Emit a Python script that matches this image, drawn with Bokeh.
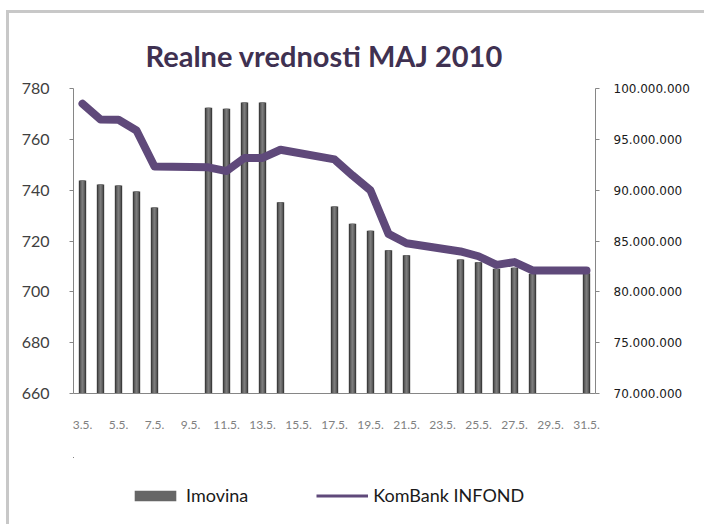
from bokeh.plotting import figure
from bokeh.layouts import column
from bokeh.models import (Range1d, LinearAxis, FixedTicker, Legend, LegendItem,
                          ColumnDataSource, Title)
from bokeh.embed import file_html
from bokeh.resources import INLINE

# ---------------- data ----------------
days = ["3.5.", "4.5.", "5.5.", "6.5.", "7.5.", "8.5.", "9.5.", "10.5.", "11.5.",
        "12.5.", "13.5.", "14.5.", "15.5.", "16.5.", "17.5.", "18.5.", "19.5.",
        "20.5.", "21.5.", "22.5.", "23.5.", "24.5.", "25.5.", "26.5.", "27.5.",
        "28.5.", "29.5.", "30.5.", "31.5."]
tick_days = ["3.5.", "5.5.", "7.5.", "9.5.", "11.5.", "13.5.", "15.5.", "17.5.",
             "19.5.", "21.5.", "23.5.", "25.5.", "27.5.", "29.5.", "31.5."]
trading_days = ["3.5.", "4.5.", "5.5.", "6.5.", "7.5.",
                "10.5.", "11.5.", "12.5.", "13.5.", "14.5.",
                "17.5.", "18.5.", "19.5.", "20.5.", "21.5.",
                "24.5.", "25.5.", "26.5.", "27.5.", "28.5.",
                "31.5."]
# Imovina (assets), dinars -> right axis
imovina = [90.95e6, 90.55e6, 90.45e6, 89.87e6, 88.30e6,
           98.10e6, 98.00e6, 98.62e6, 98.62e6, 88.80e6,
           88.40e6, 86.70e6, 86.00e6, 84.10e6, 83.60e6,
           83.18e6, 82.92e6, 82.27e6, 82.36e6, 81.77e6,
           81.83e6]
# KomBank INFOND unit value -> left axis
infond = [774.0, 767.8, 767.7, 763.5, 749.3,
          749.0, 747.5, 752.7, 752.7, 755.9,
          752.1, 745.8, 739.9, 722.8, 719.1,
          715.9, 714.0, 710.6, 711.7, 708.4,
          708.4]
left_ticks = [660, 680, 700, 720, 740, 760, 780]
right_ticks = [70e6, 75e6, 80e6, 85e6, 90e6, 95e6, 100e6]
right_tick_labels = ["70.000.000", "75.000.000", "80.000.000", "85.000.000",
                     "90.000.000", "95.000.000", "100.000.000"]
title_text = "Realne vrednosti MAJ 2010"
series_names = ["Imovina", "KomBank INFOND"]

BAR_DARK, BAR_MID, BAR_LIGHT = "#3d3d3d", "#5e5e5e", "#7c7c7c"
LINE_COLOR = "#5f497a"
AXIS = "#868686"

# ---------------- main figure ----------------
xs = [days.index(d) for d in trading_days]
src = ColumnDataSource(dict(x=xs, imovina=imovina, infond=infond))

p = figure(width=698, height=447, output_backend="svg", toolbar_location=None,
           x_range=Range1d(-0.5, len(days) - 0.5), y_range=Range1d(660, 780),
           min_border_left=64, min_border_right=112, min_border_top=75,
           min_border_bottom=67)
p.styles = {"border-left": "3px solid #c8c8c8", "border-top": "3px solid #c8c8c8",
            "margin-left": "6px", "margin-top": "10px"}
p.outline_line_color = None
p.background_fill_color = "white"
p.border_fill_color = "white"
p.xgrid.visible = False
p.ygrid.visible = False

p.title = Title(text=title_text, align="left", offset=72, standoff=31,
                text_font="Lato", text_font_size="29px", text_font_style="bold",
                text_color="#3f3151")

p.extra_y_ranges = {"right": Range1d(70e6, 100e6)}

# bars (cylinder-like shading with stacked widths)
p.vbar(x="x", top="imovina", bottom=70e6, width=0.41, source=src,
       y_range_name="right", fill_color=BAR_DARK, line_color=None)
p.vbar(x="x", top="imovina", bottom=70e6, width=0.27, source=src,
       y_range_name="right", fill_color=BAR_MID, line_color=None)
p.vbar(x="x", top="imovina", bottom=70e6, width=0.12, source=src,
       y_range_name="right", fill_color=BAR_LIGHT, line_color=None)

p.line(x="x", y="infond", source=src, line_color=LINE_COLOR, line_width=8,
       line_join="round", line_cap="round")

# axes
xa = p.xaxis[0]
xa.ticker = FixedTicker(ticks=[days.index(d) for d in tick_days])
xa.major_label_overrides = {days.index(d): d for d in tick_days}
xa.axis_line_color = AXIS
xa.major_tick_in = 0
xa.major_tick_out = 0
xa.minor_tick_out = 0
xa.minor_tick_in = 0
xa.major_label_standoff = 27
xa.major_label_text_font = "Lato"
xa.major_label_text_font_size = "12px"
xa.major_label_text_color = "#808080"

ya = p.yaxis[0]
ya.ticker = FixedTicker(ticks=left_ticks)
ya.axis_line_color = AXIS
ya.major_tick_line_color = AXIS
ya.major_tick_in = 0
ya.major_tick_out = 4
ya.minor_tick_out = 0
ya.minor_tick_in = 0
ya.major_label_standoff = 20
ya.major_label_text_font = "Lato"
ya.major_label_text_font_size = "16px"
ya.major_label_text_color = "#404040"

ra = LinearAxis(y_range_name="right")
ra.ticker = FixedTicker(ticks=right_ticks)
ra.major_label_overrides = {t: l for t, l in zip(right_ticks, right_tick_labels)}
ra.axis_line_color = AXIS
ra.major_tick_line_color = AXIS
ra.major_tick_in = 0
ra.major_tick_out = 4
ra.minor_tick_out = 0
ra.minor_tick_in = 0
ra.major_label_standoff = 14
ra.major_label_text_font = "DejaVu Sans"
ra.major_label_text_font_size = "12px"
ra.major_label_text_color = "#1a1a1a"
p.add_layout(ra, "right")

# ---------------- legend strip ----------------
# (its renderers reuse the series data, which lies far outside this strip's ranges)
lf = figure(width=698, height=67, output_backend="svg", toolbar_location=None,
            x_range=Range1d(1000, 1001), y_range=Range1d(0, 1),
            min_border_left=0, min_border_right=0, min_border_top=0,
            min_border_bottom=0)
lf.styles = {"border-left": "3px solid #c8c8c8", "margin-left": "6px"}
lf.axis.visible = False
lf.grid.visible = False
lf.outline_line_color = None
lf.border_fill_color = "white"
leg_bar = lf.vbar(x="x", top="imovina", bottom=70e6, width=0.4, source=src,
                  fill_color="#666666", line_color=None)
leg_line = lf.line(x="x", y="infond", source=src, line_color=LINE_COLOR,
                   line_width=3)

legend = Legend(items=[LegendItem(label=series_names[0], renderers=[leg_bar]),
                       LegendItem(label=series_names[1], renderers=[leg_line])],
                orientation="horizontal", location=(56, 18),
                glyph_width=52, glyph_height=13, label_standoff=5, spacing=68,
                label_text_font="Lato", label_text_font_size="18px",
                label_text_color="#1a1a1a", border_line_color=None,
                background_fill_alpha=0, padding=4, margin=0)
lf.add_layout(legend)

layout = column(p, lf, spacing=0)
open("out.html", "w").write(file_html(layout, INLINE))
